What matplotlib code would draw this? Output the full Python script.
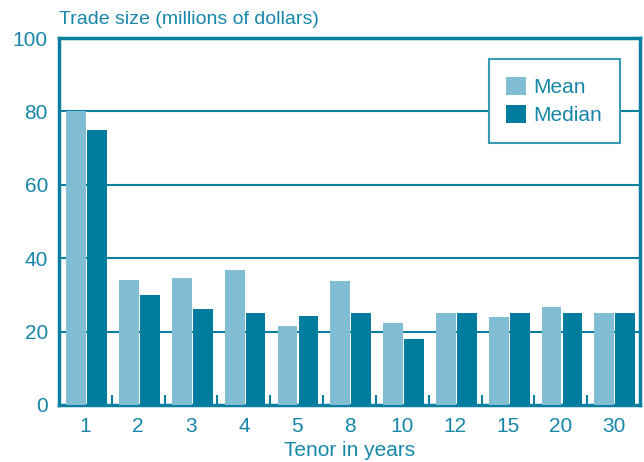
import matplotlib
matplotlib.use("Agg")
import matplotlib.pyplot as plt
import numpy as np
from matplotlib.ticker import FixedLocator

plt.rcParams['font.family'] = ['Liberation Sans', 'DejaVu Sans']

tenors = ["1", "2", "3", "4", "5", "8", "10", "12", "15", "20", "30"]
mean_vals = [80, 34, 34.6, 36.8, 21.6, 33.8, 22.3, 25, 24, 26.7, 25]
median_vals = [75, 30, 26.2, 25.1, 24.3, 25.1, 18, 25, 25, 25, 25]

C_MEAN = '#82bed3'
C_MED = '#007c9e'
C_LINE = '#0b7fa0'
C_TEXT = '#1686a9'

fig = plt.figure(figsize=(6.44, 4.62), dpi=100)
ax = fig.add_axes([59/644, 1-405/462, (640-59)/644, (405-38)/462])

x = np.arange(len(tenors))
w = 0.375
ax.bar(x - 0.175, mean_vals, w, color=C_MEAN, label='Mean', zorder=3)
ax.bar(x + 0.222, median_vals, w, color=C_MED, label='Median', zorder=3)

ax.set_xlim(-0.5, len(tenors) - 0.5)
ax.set_ylim(0, 100)
ax.set_yticks([0, 20, 40, 60, 80, 100])
ax.set_xticks(x)
ax.set_xticklabels(tenors)
ax.xaxis.set_minor_locator(FixedLocator(np.arange(0.5, len(tenors) - 1, 1)))

for yv in [20, 40, 60, 80]:
    ax.axhline(yv, color=C_LINE, lw=1.5, zorder=1)

for s in ax.spines.values():
    s.set_color(C_LINE)
    s.set_linewidth(2.5)

ax.tick_params(axis='both', which='major', length=0, labelsize=15, colors=C_TEXT)
ax.tick_params(axis='x', which='major', pad=9)
ax.tick_params(axis='y', which='major', pad=8)
ax.tick_params(axis='x', which='minor', direction='in', length=7, width=1.5, color=C_LINE)

ax.set_xlabel('Tenor in years', fontsize=15, color=C_TEXT, labelpad=3)
fig.text(59/644, 1-19/462, 'Trade size (millions of dollars)', fontsize=14,
         color=C_TEXT, ha='left', va='center')

leg = ax.legend(loc='upper right', bbox_to_anchor=((620-59)/581, (405-59)/367),
                fontsize=15, frameon=True, fancybox=False, handlelength=0.95,
                handleheight=0.95, handletextpad=0.35, borderpad=0.85,
                labelspacing=0.4, labelcolor=C_TEXT, borderaxespad=0)
leg.get_frame().set_edgecolor('#3a9bb8')
leg.get_frame().set_linewidth(1.5)
leg.get_frame().set_alpha(1)
leg.set_zorder(5)

fig.savefig('out.png', dpi=100)
